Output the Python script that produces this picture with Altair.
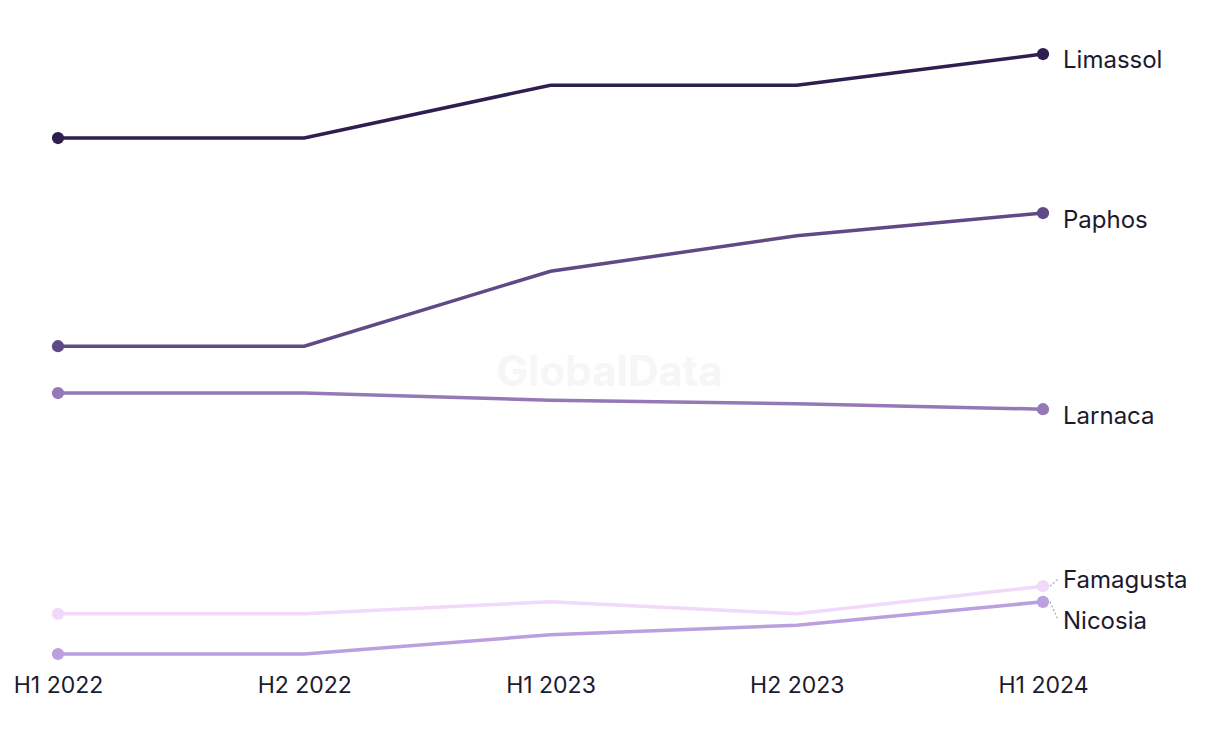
import altair as alt
import pandas as pd

periods = ["H1 2022", "H2 2022", "H1 2023", "H2 2023", "H1 2024"]
cities = ["Limassol", "Paphos", "Larnaca", "Famagusta", "Nicosia"]
colors = ["#2f1e50", "#5f4a85", "#9479b6", "#f0d9fb", "#baa0de"]

limassol = [186.0, 186.0, 194.8, 194.8, 200.0]
paphos = [151.3, 151.3, 163.8, 169.7, 173.5]
larnaca = [143.5, 143.5, 142.3, 141.7, 140.8]
famagusta = [106.7, 106.7, 108.7, 106.7, 111.3]
nicosia = [100.0, 100.0, 103.2, 104.8, 108.7]

label_values = [199.2, 172.5, 139.8, 112.5, 105.7]
leader = [0, 0, 0, 1, 1]

series = [limassol, paphos, larnaca, famagusta, nicosia]
rows = []
for c, vals in zip(cities, series):
    for i, (p, v) in enumerate(zip(periods, vals)):
        rows.append({"city": c, "period": p, "idx": i, "value": v})
df = pd.DataFrame(rows)

last = len(periods) - 1
lab = pd.DataFrame({
    "city": cities,
    "idx": [last] * len(cities),
    "value": [s[-1] for s in series],
    "labelValue": label_values,
    "leader": leader,
})

FONT = "Inter"
TXT = "#1c1a2e"

label_expr = "['" + "','".join(periods) + "'][datum.value]"
xs = alt.Scale(domain=[-0.203, last], nice=False, zero=False)
ys = alt.Scale(domain=[100, 207.67], zero=False, nice=False)
xaxis = alt.Axis(title=None, values=list(range(len(periods))), labelExpr=label_expr,
                 domain=False, ticks=False, grid=False, labelFlush=False, labelOverlap=False,
                 labelFontSize=23, labelColor=TXT, labelFont=FONT, labelPadding=20)

def X(field="idx"):
    return alt.X(f"{field}:Q", scale=xs, axis=xaxis)

def Y(field):
    return alt.Y(f"{field}:Q", scale=ys, axis=None)

color = alt.Color("city:N", scale=alt.Scale(domain=cities, range=colors), legend=None)

base = alt.Chart(df)
lines = base.mark_line(strokeWidth=3.5).encode(x=X(), y=Y("value"), color=color, detail="city:N")
points = base.transform_filter(
    (alt.datum.idx == 0) | (alt.datum.idx == last)
).mark_circle(size=150, opacity=1).encode(x=X(), y=Y("value"), color=color)

labels = alt.Chart(lab).mark_text(align="left", baseline="middle", dx=20, dy=2, fontSize=24,
                                  font=FONT, color=TXT).encode(
    x=X(), y=Y("labelValue"), text="city:N",
)

leaders = alt.Chart(lab).transform_filter(alt.datum.leader == 1).mark_rule(
    strokeDash=[2, 2], strokeWidth=1.2, color="#aaa6b8", xOffset=7, x2Offset=15
).encode(
    x=X(), x2="idx:Q", y=Y("value"), y2="labelValue:Q",
)

wm = pd.DataFrame({"t": ["GlobalData"], "idx": [2.24], "value": [146.8]})
watermark = alt.Chart(wm).mark_text(
    fontSize=42, fontWeight="bold", font=FONT, color="#f6f6f6", align="center",
    baseline="middle"
).encode(x=X(), y=Y("value"), text="t:N")

chart = alt.layer(watermark, lines, leaders, points, labels).properties(
    width=1035, height=646, padding=0,
).configure_view(strokeWidth=0)

chart.save("out.html", embed_options={"renderer": "svg", "actions": False})
